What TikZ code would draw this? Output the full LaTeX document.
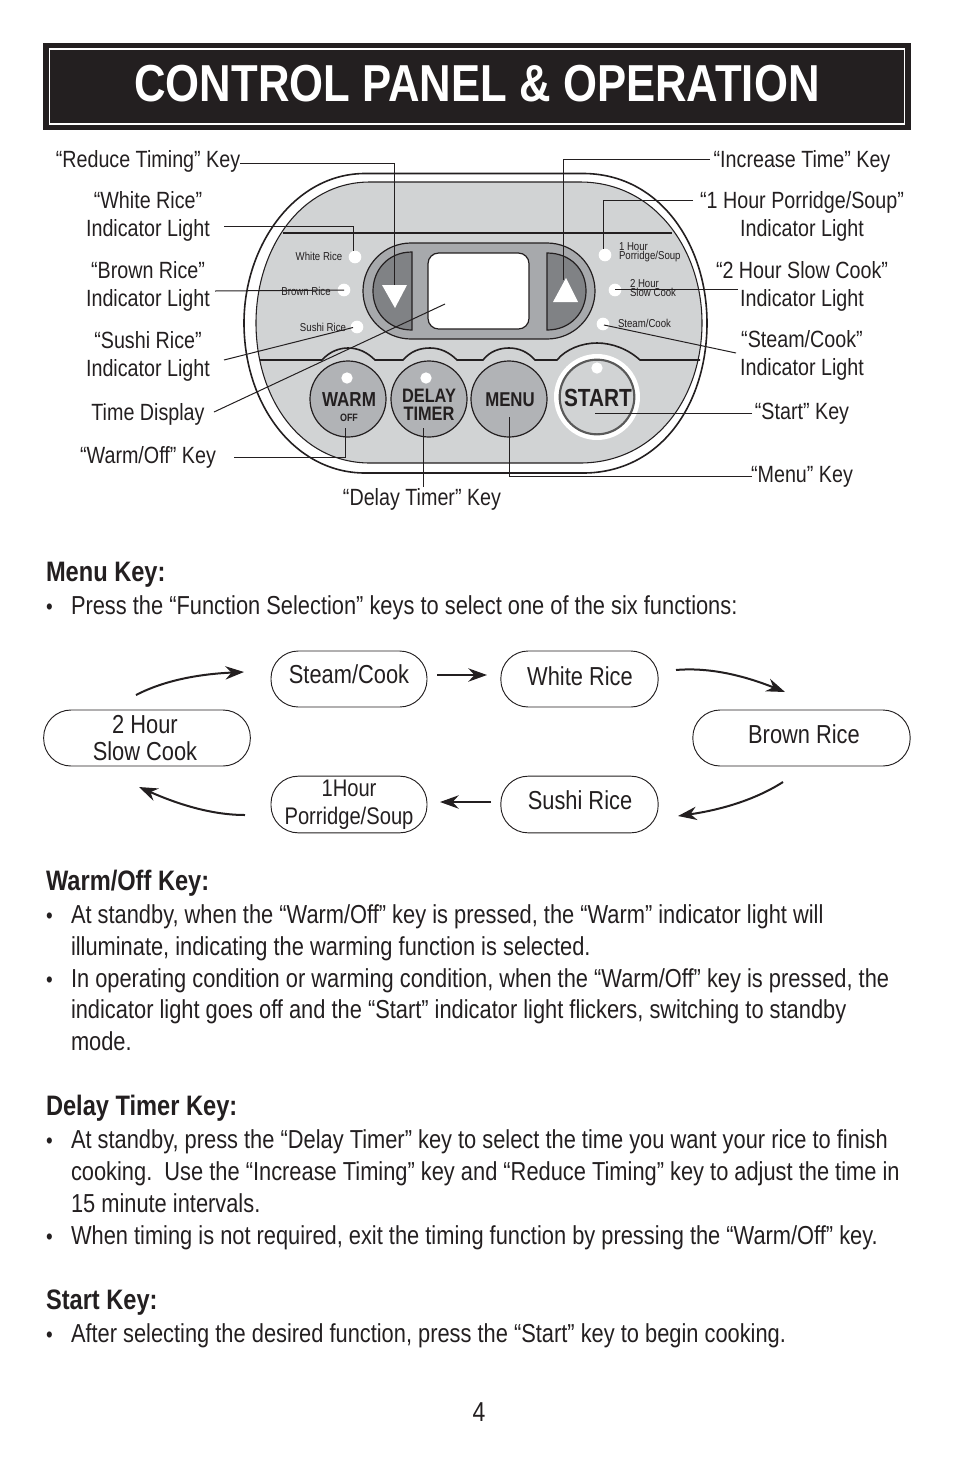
\documentclass[tikz,border=0pt]{standalone}
\usepackage{fontspec}
\setmainfont[FakeStretch=0.84]{Liberation Sans}
\usetikzlibrary{arrows.meta}
\definecolor{ink}{HTML}{231F20}
\definecolor{panelgray}{HTML}{D1D3D4}
\definecolor{pillgray}{HTML}{A7A9AC}
\definecolor{keygray}{HTML}{B1B3B6}
\definecolor{dgray}{HTML}{808285}
\tikzset{
  x=0.75pt,y=-0.75pt,
  every node/.style={text=ink,inner sep=0pt,outer sep=0pt},
  body/.style={anchor=base west,font=\fontsize{19.5}{20}\selectfont},
  bull/.style={anchor=base west,font=\fontsize{17}{20}\selectfont},
  head/.style={anchor=base west,font=\fontsize{21.1}{20}\selectfont\bfseries},
  lab/.style={align=center,font=\fontsize{17.6}{20.6}\selectfont},
  pilltext/.style={align=center,font=\fontsize{19.5}{20.6}\selectfont},
  pill/.style={draw=ink,line width=0.7pt,fill=white,rounded corners=20.5pt},
  leader/.style={draw=ink,line width=0.75pt},
  outline/.style={draw=ink,line width=1.2pt},
  led/.style={circle,fill=white,minimum size=9.5pt},
  tiny/.style={align=left,font=\fontsize{8.6}{7}\selectfont},
  key/.style={circle,draw=ink,line width=0.9pt,fill=keygray,minimum size=57pt},
  flow/.style={draw=ink,line width=1.5pt,-{Stealth[length=14pt,width=10pt]}},
}
\begin{document}
\begin{tikzpicture}
\useasboundingbox (0,0) rectangle (954,1475);
% title bar
\node[draw=ink,line width=3.4pt,fill=ink,minimum width=648pt,minimum height=62pt,anchor=center] (bar) at (477,86.5) {};
\node[draw=white,line width=1.1pt,fill=ink,minimum width=641pt,minimum height=56pt] (barin) at (477,86.5) {};
\node[text=white,font=\fontsize{39}{40}\selectfont\bfseries] (title) at (477,84) {CONTROL PANEL \& OPERATION};
% panel body
\path[outline,fill=white] (365,173.5) -- (583,173.5) .. controls (660,173.5) and (707,245) .. (707,323)
  .. controls (707,405) and (660,473) .. (583,473) -- (365,473)
  .. controls (295,473) and (244,405) .. (244,323) .. controls (244,245) and (295,173.5) .. (365,173.5) -- cycle;
\path[draw=ink,line width=0.8pt,fill=panelgray] (370,182) -- (580,182) .. controls (655,182) and (702,250) .. (702,323)
  .. controls (702,398) and (655,463) .. (580,463) -- (370,463)
  .. controls (300,463) and (256,398) .. (256,323) .. controls (256,250) and (300,182) .. (370,182) -- cycle;
\draw[ink,line width=1.2pt] (283,232.7) -- (672,232.7);
\draw[ink,line width=1.2pt] (260,360) -- (322,360) .. controls (330,351) and (340,348) .. (348,348)
  .. controls (358,348) and (367,352) .. (375,360) -- (403,360)
  .. controls (411,351) and (420,348) .. (430,348) .. controls (440,348) and (449,352) .. (457,360) -- (483,360)
  .. controls (490,351) and (500,348) .. (509,348) .. controls (519,348) and (528,352) .. (535,360) -- (557,360)
  .. controls (566,349) and (582,343) .. (597,343) .. controls (612,343) and (628,349) .. (640,360) -- (700,360);
% display
\path[draw=ink,line width=0.9pt,fill=pillgray] (411,243) -- (547,243) .. controls (573.5,243) and (595,264.5) .. (595,291)
  .. controls (595,317.5) and (573.5,339) .. (547,339) -- (411,339) .. controls (384.5,339) and (363,317.5) .. (363,291)
  .. controls (363,264.5) and (384.5,243) .. (411,243) -- cycle;
\path[draw=ink,line width=0.9pt,fill=white,rounded corners=8pt] (428,253) rectangle (529,329);
\path[draw=ink,line width=0.9pt,fill=dgray] (412,252) -- (412,330) .. controls (388,330) and (373,312) .. (373,291) .. controls (373,270) and (388,252) .. (412,252) -- cycle;
\path[draw=ink,line width=0.9pt,fill=dgray] (547,253) -- (547,330) .. controls (571,330) and (586,312) .. (586,291) .. controls (586,270) and (571,253) .. (547,253) -- cycle;
\fill[white] (382,285) -- (407,285) -- (395,308) -- cycle;
\fill[white] (553,302) -- (578,302) -- (566,278) -- cycle;
% LEDs and small labels
\node[led] (ledWhite) at (355,257) {};
\node[led] (ledBrown) at (344,290) {};
\node[led] (ledSushi) at (357,327) {};
\node[led] (ledOne) at (605,255) {};
\node[led] (ledTwo) at (615,290) {};
\node[led] (ledSteam) at (603,324) {};
\node[tiny] (tWhite) at (319,256) {White Rice};
\node[tiny] (tBrown) at (306,291) {Brown Rice};
\node[tiny] (tSushi) at (323,327) {Sushi Rice};
\node[tiny,anchor=west] (tOne) at (619,252) {1 Hour\\Porridge/Soup};
\node[tiny,anchor=west] (tTwo) at (630,288) {2 Hour\\Slow Cook};
\node[tiny,anchor=west] (tSteam) at (618,323) {Steam/Cook};
% keys
\node[key] (kWarm) at (348,399) {};
\node[key] (kDelay) at (429,399) {};
\node[key] (kMenu) at (509,399) {};
\node[circle,fill=white,minimum size=64.5pt] (kStartRing) at (597,397) {};
\node[circle,draw=black!65,line width=1.6pt,fill=panelgray,minimum size=56pt] (kStart) at (597,397) {};
\node[led,minimum size=8.5pt] (lWarm) at (347,378) {};
\node[led,minimum size=8.5pt] (lDelay) at (426,378) {};
\node[led,minimum size=8.5pt] (lStart) at (597,368) {};
\node[font=\fontsize{15.2}{15}\selectfont\bfseries] (tWarm) at (349,400) {WARM};
\node[font=\fontsize{8}{9}\selectfont\bfseries] (tOff) at (349,418) {OFF};
\node[align=center,font=\fontsize{14.6}{13.5}\selectfont\bfseries] (tDelay) at (429,405) {DELAY\\TIMER};
\node[font=\fontsize{15}{15}\selectfont\bfseries] (tMenu) at (510,400) {MENU};
\node[font=\fontsize{18.6}{19}\selectfont\bfseries] (tStart) at (598,398) {START};
% leader end points
\coordinate (cReduce) at (240,163); \coordinate (cReduceB) at (394,285);
\coordinate (cInc) at (710,159); \coordinate (cIncB) at (563,280);
\coordinate (cWhite) at (224,226);
\coordinate (cBrown) at (215,291);
\coordinate (cSushi) at (224,360); \coordinate (cSushiB) at (353,327.5);
\coordinate (cTime) at (214,412); \coordinate (cTimeB) at (445,304);
\coordinate (cWarm) at (234,457); \coordinate (cWarmB) at (345,428);
\coordinate (cDelay) at (423,487); \coordinate (cDelayB) at (423,428);
\coordinate (cMenu) at (752,476); \coordinate (cMenuB) at (509,417);
\coordinate (cStart) at (752,413); \coordinate (cStartB) at (595,413);
\coordinate (cSteam) at (736,353); \coordinate (cSteamB) at (604,325);
\coordinate (cTwo) at (738,289); \coordinate (cTwoB) at (615,289);
\coordinate (cOne) at (693,200);
% leaders
\draw[leader] (cReduce) -| (cReduceB);
\draw[leader] (cInc) -| (cIncB);
\draw[leader] (cWhite) -| ([xshift=-1.5pt]ledWhite.north);
\draw[leader] (cBrown) -- (ledBrown.center);
\draw[leader] (cSushi) -- (cSushiB);
\draw[leader] (cTime) -- (cTimeB);
\draw[leader] (cWarm) -| (cWarmB);
\draw[leader] (cDelay) -- (cDelayB);
\draw[leader] (cMenu) -| (cMenuB);
\draw[leader] (cStart) -- (cStartB);
\draw[leader] (cSteam) -- (cSteamB);
\draw[leader] (cTwo) -- (cTwoB);
\draw[leader] (cOne) -| ([xshift=-1.5pt]ledOne.north);
% leader labels
\node[lab] (lReduce) at (148,161) {“Reduce Timing” Key};
\node[lab] (lWhite) at (148,216.5) {“White Rice”\\Indicator Light};
\node[lab] (lBrown) at (148,286.5) {“Brown Rice”\\Indicator Light};
\node[lab] (lSushi) at (148,356.5) {“Sushi Rice”\\Indicator Light};
\node[lab] (lTime) at (148,414) {Time Display};
\node[lab] (lWarm2) at (148,457) {“Warm/Off” Key};
\node[lab] (lDelay2) at (422,499) {“Delay Timer” Key};
\node[lab] (lInc) at (802,161) {“Increase Time” Key};
\node[lab] (lOne) at (802,216.5) {“1 Hour Porridge/Soup”\\Indicator Light};
\node[lab] (lTwo) at (802,286.5) {“2 Hour Slow Cook”\\Indicator Light};
\node[lab] (lSteam) at (802,355.5) {“Steam/Cook”\\Indicator Light};
\node[lab] (lStart2) at (802,414) {“Start” Key};
\node[lab] (lMenu2) at (802,477) {“Menu” Key};
% headings and body
\node[head] (h1) at (46,581) {Menu Key:};
\node[bull] (b0) at (46,614) {•};
\node[body] (t0) at (71,614) {Press the “Function Selection” keys to select one of the six functions:};
\node[head] (h2) at (46,890) {Warm/Off Key:};
\node[bull] (b1) at (46,923) {•};
\node[body] (t1) at (71,923) {At standby, when the “Warm/Off” key is pressed, the “Warm” indicator light will};
\node[body] (t2) at (71,955) {illuminate, indicating the warming function is selected.};
\node[bull] (b2) at (46,987) {•};
\node[body] (t3) at (71,987) {In operating condition or warming condition, when the “Warm/Off” key is pressed, the};
\node[body] (t4) at (71,1018) {indicator light goes off and the “Start” indicator light flickers, switching to standby};
\node[body] (t5) at (71,1050) {mode.};
\node[head] (h3) at (46,1115) {Delay Timer Key:};
\node[bull] (b3) at (46,1148) {•};
\node[body] (t6) at (71,1148) {At standby, press the “Delay Timer” key to select the time you want your rice to finish};
\node[body] (t7) at (71,1180) {cooking.\ \ Use the “Increase Timing” key and “Reduce Timing” key to adjust the time in};
\node[body] (t8) at (71,1212) {15 minute intervals.};
\node[bull] (b4) at (46,1244) {•};
\node[body] (t9) at (71,1244) {When timing is not required, exit the timing function by pressing the “Warm/Off” key.};
\node[head] (h4) at (46,1309) {Start Key:};
\node[bull] (b5) at (46,1342) {•};
\node[body] (t10) at (71,1342) {After selecting the desired function, press the “Start” key to begin cooking.};
\node[anchor=base,font=\fontsize{20.5}{20}\selectfont] (page) at (479,1421) {4};
% flow pills
\node[pill,minimum width=117pt,minimum height=42pt] (pSteam) at (349,679) {};
\node[pill,minimum width=118pt,minimum height=42pt] (pWhite) at (579.5,679) {};
\node[pill,minimum width=163pt,minimum height=42pt] (pBrown) at (801.5,738) {};
\node[pill,minimum width=118pt,minimum height=42.5pt] (pSushi) at (579.5,804.5) {};
\node[pill,minimum width=117pt,minimum height=42.5pt] (pOne) at (349,804.5) {};
\node[pill,minimum width=155pt,minimum height=42pt] (pTwo) at (147,738) {};
\node[pilltext] (xSteam) at (349,674.5) {Steam/Cook};
\node[pilltext] (xWhite) at (580,676) {White Rice};
\node[pilltext] (xBrown) at (804,734) {Brown Rice};
\node[pilltext] (xSushi) at (580,800) {Sushi Rice};
\node[pilltext,font=\fontsize{18}{20.6}\selectfont] (xOne) at (349,804.5) {1Hour\\Porridge/Soup};
\node[pilltext] (xTwo) at (145,738) {2 Hour\\Slow Cook};
% flow arrows
\coordinate (f1a) at (136,695); \coordinate (f1b) at (244,672);
\coordinate (f2a) at (437,675); \coordinate (f2b) at (487,675);
\coordinate (f3a) at (676,670); \coordinate (f3b) at (785,692);
\coordinate (f4a) at (783,782); \coordinate (f4b) at (678,816);
\coordinate (f5a) at (491,802); \coordinate (f5b) at (440,802);
\coordinate (f6a) at (245,815); \coordinate (f6b) at (139,787);
\draw[flow] (f1a) .. controls (165,680) and (200,674) .. (f1b);
\draw[flow] (f2a) -- (f2b);
\draw[flow] (f3a) .. controls (710,667) and (745,676) .. (f3b);
\draw[flow] (f4a) .. controls (755,800) and (720,810) .. (f4b);
\draw[flow] (f5a) -- (f5b);
\draw[flow] (f6a) .. controls (210,815) and (175,803) .. (f6b);
\end{tikzpicture}
\end{document}
